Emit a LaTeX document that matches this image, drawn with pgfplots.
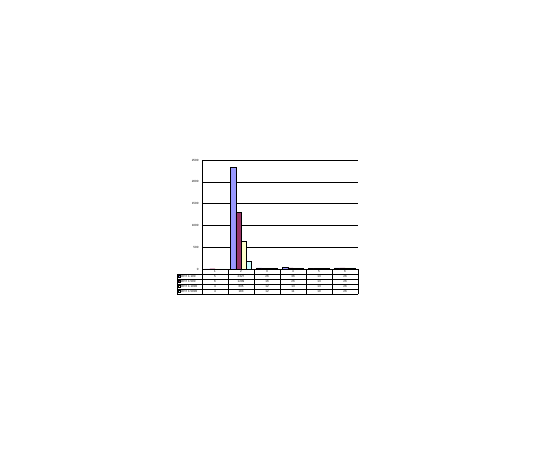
\documentclass[border=0pt]{standalone}
\usepackage{pgfplots}
\pgfplotsset{compat=1.18}
\usepackage{fontspec}
\setmainfont{Liberation Sans}
\definecolor{s1}{HTML}{9999FF}
\definecolor{s2}{HTML}{993366}
\definecolor{s3}{HTML}{FFFFCC}
\definecolor{s4}{HTML}{CCFFFF}
\begin{document}
\begin{tikzpicture}[x=1pt,y=1pt,font=\fontsize{3}{3.5}\selectfont]
\useasboundingbox[fill=white] (0,0) rectangle (540,450);
\begin{axis}[at={(202pt,181pt)}, anchor=south west, scale only axis,
  width=156pt, height=109pt,
  ybar=0pt, bar width=0.2,
  xmin=0.5, xmax=6.5, ymin=0, ymax=2500,
  ytick={0,500,...,2500}, xtick=\empty,
  ymajorgrids, grid style={black, line width=0.3pt},
  axis x line*=bottom, axis y line*=left,
  axis line style={-, black, line width=0.3pt},
  tick style={black, line width=0.3pt}, major tick length=1.5pt,
  tick label style={font=\fontsize{3}{3.5}\selectfont},
  /pgf/number format/assume math mode=true,
  /pgf/number format/set thousands separator={},
  every axis plot/.append style={draw=black, line width=0.25pt}]
\addplot[fill=s1] coordinates {(1,5) (2,2327) (3,26) (4,36) (5,13) (6,26)};
\addplot[fill=s2] coordinates {(1,6) (2,1299) (3,16) (4,26) (5,13) (6,26)};
\addplot[fill=s3] coordinates {(1,4) (2,635) (3,12) (4,13) (5,13) (6,26)};
\addplot[fill=s4] coordinates {(1,4) (2,183) (3,12) (4,11) (5,10) (6,26)};
\end{axis}
% data table below the plot
\begin{scope}[line width=0.3pt]
\foreach \k in {0,...,6} \draw (202+26*\k,181) -- (202+26*\k,156);
\draw (177,176) -- (177,156);
\foreach \r in {0,...,4} \draw (177,176-5*\r) -- (358,176-5*\r);
\end{scope}
\foreach \k in {1,...,6} \node at (202+26*\k-13,178.5) {\k};
\foreach \v [count=\k] in {5,2327,26,36,13,26} \node at (202+26*\k-13,173.5) {\v};
\foreach \v [count=\k] in {6,1299,16,26,13,26} \node at (202+26*\k-13,168.5) {\v};
\foreach \v [count=\k] in {4,635,12,13,13,26} \node at (202+26*\k-13,163.5) {\v};
\foreach \v [count=\k] in {4,183,12,11,10,26} \node at (202+26*\k-13,158.5) {\v};
\foreach \c/\t [count=\r] in {s1/DH7 1:100,s2/DH7 1:500,s3/DH7 1:1000,s4/DH7 1:5000}{
  \filldraw[fill=\c,draw=black,line width=0.2pt] (178,176-5*\r+1.5) rectangle (180,176-5*\r+3.5);
  \node[anchor=west,inner sep=0.5pt] at (180.5,176-5*\r+2.5) {\t};
}
\end{tikzpicture}
\end{document}
